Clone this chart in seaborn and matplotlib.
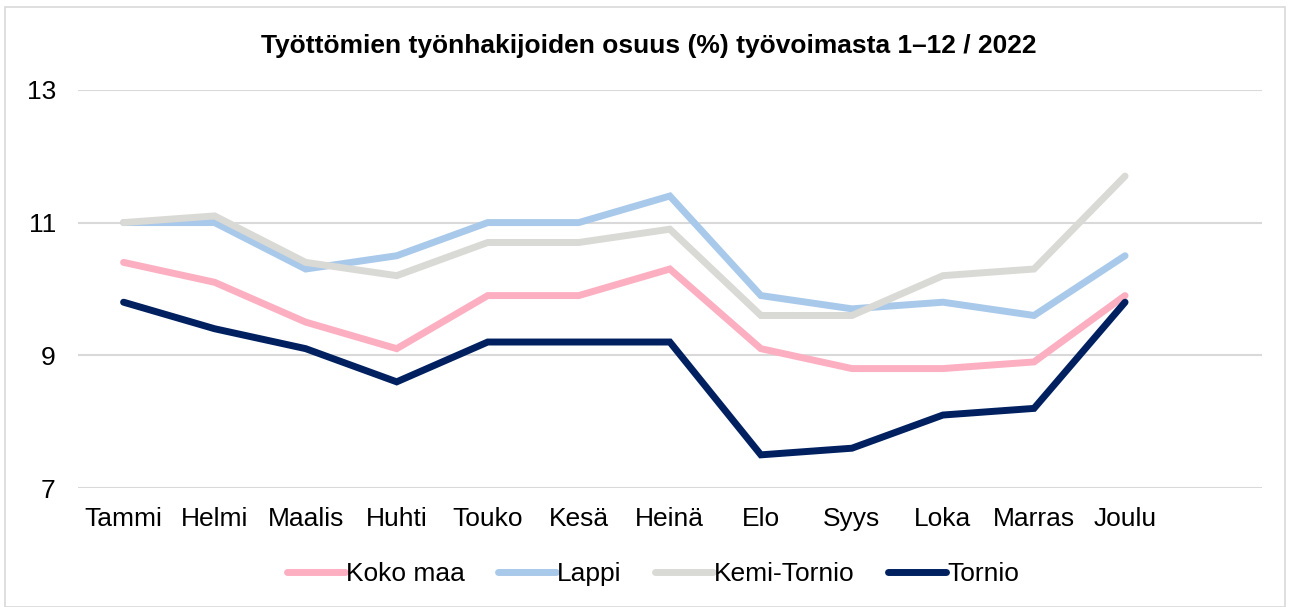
import matplotlib
matplotlib.use("Agg")
import matplotlib.pyplot as plt
import seaborn as sns
import pandas as pd
from matplotlib.patches import Rectangle
from matplotlib.lines import Line2D

months = ["Tammi", "Helmi", "Maalis", "Huhti", "Touko", "Kesä", "Heinä",
          "Elo", "Syys", "Loka", "Marras", "Joulu"]
koko_maa = [10.4, 10.1, 9.5, 9.1, 9.9, 9.9, 10.3, 9.1, 8.8, 8.8, 8.9, 9.9]
lappi = [11.0, 11.0, 10.3, 10.5, 11.0, 11.0, 11.4, 9.9, 9.7, 9.8, 9.6, 10.5]
kemi_tornio = [11.0, 11.1, 10.4, 10.2, 10.7, 10.7, 10.9, 9.6, 9.6, 10.2, 10.3, 11.7]
tornio = [9.8, 9.4, 9.1, 8.6, 9.2, 9.2, 9.2, 7.5, 7.6, 8.1, 8.2, 9.8]
series_names = ["Koko maa", "Lappi", "Kemi-Tornio", "Tornio"]
colors = ["#FDAFC2", "#A9C9EA", "#D9D9D5", "#002060"]
title = "Työttömien työnhakijoiden osuus (%) työvoimasta 1–12 / 2022"
yticks = [7, 9, 11, 13]

sns.set_theme(style="white")
plt.rcParams["font.family"] = ["Liberation Sans", "DejaVu Sans"]
plt.rcParams["text.color"] = "black"
plt.rcParams["xtick.color"] = "black"
plt.rcParams["ytick.color"] = "black"

rows = []
for name, vals in zip(series_names, [koko_maa, lappi, kemi_tornio, tornio]):
    for i, v in enumerate(vals):
        rows.append({"idx": i, "value": v, "series": name})
df = pd.DataFrame(rows)

fig = plt.figure(figsize=(12.9, 6.07), dpi=100)
ax = fig.add_axes([0.0605, 0.196, 0.9175, 0.656])

sns.lineplot(data=df, x="idx", y="value", hue="series", hue_order=series_names,
             palette=colors, linewidth=5, ax=ax, legend=False,
             solid_capstyle="round", solid_joinstyle="miter")

ax.set_xlim(-0.5, 12.5)
ax.set_ylim(7, 13)
ax.set_yticks(yticks)
ax.set_yticklabels([str(t) for t in yticks], fontsize=19)
ax.set_xticks(range(len(months)))
ax.set_xticklabels(months, fontsize=19)
ax.tick_params(axis="x", length=0, pad=14)
ax.tick_params(axis="y", length=0, pad=16)
ax.set_xlabel("")
ax.set_ylabel("")
for s in ax.spines.values():
    s.set_visible(False)
ax.grid(axis="y", color="#D9D9D9", linewidth=1.5)
ax.grid(axis="x", visible=False)
ax.set_axisbelow(True)

fig.text(0.503, 0.925, title, ha="center", va="center", fontsize=19, fontweight="bold")

handles = [Line2D([], [], color=c, linewidth=5, solid_capstyle="round") for c in colors]
fig.legend(handles, series_names, loc="center", bbox_to_anchor=(0.506, 0.054), ncol=4,
           frameon=False, fontsize=19, handlelength=2.2, handletextpad=0.05,
           columnspacing=1.25)

fig.patches.append(Rectangle((0.004, 0.0), 0.992, 0.988, transform=fig.transFigure,
                             fill=False, edgecolor="#D9D9D9", linewidth=1.2))

fig.savefig("out.png", dpi=100, facecolor="white")
